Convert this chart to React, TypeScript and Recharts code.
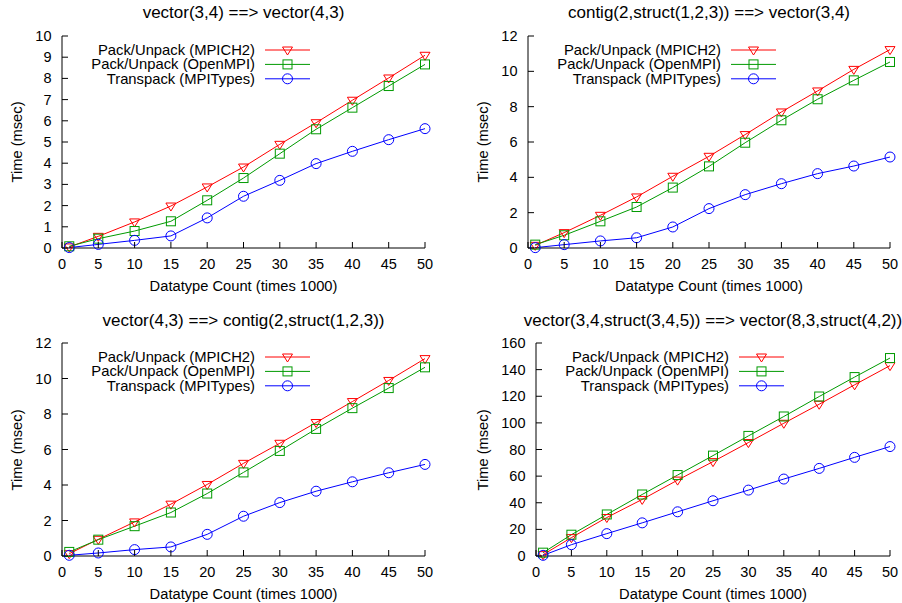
import React from 'react';
import { LineChart, Line, XAxis, YAxis, Legend } from 'recharts';

const FONT = '"Liberation Sans", Arial, Helvetica, sans-serif';

// datatype count (times 1000)
const counts = [1, 5, 10, 15, 20, 25, 30, 35, 40, 45, 50];
const xTicks = [0, 5, 10, 15, 20, 25, 30, 35, 40, 45, 50];

const titles = [
  'vector(3,4) ==> vector(4,3)',
  'contig(2,struct(1,2,3)) ==> vector(3,4)',
  'vector(4,3) ==> contig(2,struct(1,2,3))',
  'vector(3,4,struct(3,4,5)) ==> vector(8,3,struct(4,2))',
];

const yTicks1 = [0, 1, 2, 3, 4, 5, 6, 7, 8, 9, 10];
const yTicks2 = [0, 2, 4, 6, 8, 10, 12];
const yTicks3 = [0, 2, 4, 6, 8, 10, 12];
const yTicks4 = [0, 20, 40, 60, 80, 100, 120, 140, 160];

const mpich1 = [0.05, 0.55, 1.23, 1.98, 2.88, 3.82, 4.89, 5.91, 6.97, 8.02, 9.09];
const openmpi1 = [0.08, 0.44, 0.8, 1.26, 2.25, 3.3, 4.45, 5.6, 6.62, 7.64, 8.66];
const mpitypes1 = [0.02, 0.17, 0.36, 0.57, 1.42, 2.44, 3.19, 3.98, 4.56, 5.11, 5.63];

const mpich2 = [0.15, 0.87, 1.85, 2.89, 4.06, 5.19, 6.42, 7.7, 8.89, 10.11, 11.23];
const openmpi2 = [0.19, 0.72, 1.51, 2.32, 3.42, 4.62, 5.96, 7.23, 8.42, 9.49, 10.53];
const mpitypes2 = [0.02, 0.19, 0.4, 0.58, 1.19, 2.23, 3.02, 3.64, 4.21, 4.64, 5.15];

const mpich3 = [0.13, 0.94, 1.92, 2.92, 4.03, 5.22, 6.35, 7.52, 8.7, 9.89, 11.12];
const openmpi3 = [0.23, 0.92, 1.68, 2.45, 3.52, 4.71, 5.92, 7.16, 8.33, 9.46, 10.63];
const mpitypes3 = [0.04, 0.17, 0.36, 0.51, 1.22, 2.24, 3.01, 3.65, 4.18, 4.69, 5.16];

const mpich4 = [1, 13.8, 28.9, 42.5, 57, 70.9, 85.2, 99.7, 114, 128.6, 143];
const openmpi4 = [2.5, 16, 31.2, 46.2, 60.8, 75.4, 90.2, 104.8, 119.8, 134.4, 148.7];
const mpitypes4 = [0.5, 8.5, 16.8, 24.9, 33.2, 41.5, 49.5, 57.8, 65.8, 74.1, 82.2];

const series = [
  { key: 'mpich', name: 'Pack/Unpack (MPICH2)', color: '#ff0000', shape: 'tri' },
  { key: 'openmpi', name: 'Pack/Unpack (OpenMPI)', color: '#009a00', shape: 'square' },
  { key: 'mpitypes', name: 'Transpack (MPITypes)', color: '#0000ff', shape: 'circle' },
];

// box = where the chart sits on the page, plot = page coords of the plot area
const panels = [
  { ox: 0, oy: 0, h: 300, L: 62, R: 425, T: 36, B: 248, yMax: 10, yTicks: yTicks1, vals: [mpich1, openmpi1, mpitypes1] },
  { ox: 451, oy: 0, h: 300, L: 528, R: 890, T: 36, B: 248, yMax: 12, yTicks: yTicks2, vals: [mpich2, openmpi2, mpitypes2] },
  { ox: 0, oy: 300, h: 303, L: 62, R: 425, T: 343, B: 556, yMax: 12, yTicks: yTicks3, vals: [mpich3, openmpi3, mpitypes3] },
  { ox: 451, oy: 300, h: 303, L: 536, R: 890, T: 343, B: 556, yMax: 160, yTicks: yTicks4, vals: [mpich4, openmpi4, mpitypes4] },
];

const Marker = ({ cx, cy, shape, color }: { cx: number; cy: number; shape: string; color: string }) => {
  if (cx == null || cy == null) return null;
  if (shape === 'tri') {
    return (
      <polygon
        points={`${cx - 5},${cy - 3} ${cx + 5},${cy - 3} ${cx},${cy + 5}`}
        fill="none"
        stroke={color}
        strokeWidth={1}
      />
    );
  }
  if (shape === 'square') {
    return <rect x={cx - 4.5} y={cy - 4.5} width={9} height={9} fill="none" stroke={color} strokeWidth={1} />;
  }
  return <circle cx={cx} cy={cy} r={5} fill="none" stroke={color} strokeWidth={1} />;
};

const LegendBox = () => (
  <svg width={260} height={46} style={{ display: 'block', overflow: 'visible' }}>
    {series.map((s, i) => {
      const y = 7 + i * 14.4;
      return (
        <g key={s.key}>
          <text x={200} y={y} dy={5} textAnchor="end" fontSize={14.8} fontFamily={FONT} fill="#000">
            {s.name}
          </text>
          <line x1={210} x2={255} y1={y} y2={y} stroke={s.color} strokeWidth={1} />
          <Marker cx={232.5} cy={y} shape={s.shape} color={s.color} />
        </g>
      );
    })}
  </svg>
);

const Panel = ({ p, title }: { p: (typeof panels)[number]; title: string }) => {
  const data = counts.map((x, i) => ({
    x,
    mpich: p.vals[0][i],
    openmpi: p.vals[1][i],
    mpitypes: p.vals[2][i],
  }));
  const axisX = p.L - p.ox;
  const axisY = p.B - p.oy;
  const cx = (p.L + p.R) / 2 - p.ox;
  const cy = (p.T + p.B) / 2 - p.oy;

  const XTick = (props: any) => (
    <g>
      <line x1={props.x} x2={props.x} y1={axisY} y2={axisY - 6} stroke="#000" strokeWidth={1} />
      <text x={props.x} y={axisY + 15.5} dy={5} textAnchor="middle" fontSize={14.5} fontFamily={FONT} fill="#000">
        {props.payload.value}
      </text>
    </g>
  );
  const YTick = (props: any) => (
    <g>
      <line x1={axisX} x2={axisX + 6} y1={props.y} y2={props.y} stroke="#000" strokeWidth={1} />
      <text x={axisX - 10.5} y={props.y} dy={5} textAnchor="end" fontSize={14.5} fontFamily={FONT} fill="#000">
        {props.payload.value}
      </text>
    </g>
  );

  return (
    <div style={{ position: 'absolute', left: p.ox, top: p.oy, width: 451, height: p.h }}>
      <LineChart
        width={451}
        height={p.h}
        data={data}
        margin={{ top: p.T - p.oy, right: p.ox + 451 - p.R, left: 0, bottom: p.oy + p.h - p.B - 40 }}
      >
        <XAxis
          dataKey="x"
          type="number"
          domain={[0, 50]}
          ticks={xTicks}
          height={40}
          tickLine={false}
          tick={<XTick />}
          axisLine={{ stroke: '#000', strokeWidth: 1 }}
          interval={0}
        />
        <YAxis
          type="number"
          domain={[0, p.yMax]}
          ticks={p.yTicks}
          width={p.L - p.ox}
          tickLine={false}
          tick={<YTick />}
          axisLine={{ stroke: '#000', strokeWidth: 1 }}
          interval={0}
        />
        <Legend
          layout="vertical"
          align="center"
          verticalAlign="middle"
          wrapperStyle={{ left: p.L - p.ox - 7, top: p.T - p.oy + 7, width: 260, height: 46 }}
          content={() => <LegendBox />}
        />
        {series.map((s) => (
          <Line
            key={s.key}
            dataKey={s.key}
            name={s.name}
            type="linear"
            stroke={s.color}
            strokeWidth={1}
            isAnimationActive={false}
            activeDot={false}
            dot={(d: any) => (
              <Marker key={`${s.key}-${d.index}`} cx={d.cx} cy={d.cy} shape={s.shape} color={s.color} />
            )}
          />
        ))}
      </LineChart>
      <div
        style={{
          position: 'absolute',
          left: cx,
          top: p.oy === 0 ? 13 : 20.5,
          transform: 'translate(-50%, -50%)',
          whiteSpace: 'nowrap',
          fontSize: 17,
          fontFamily: FONT,
        }}
      >
        {title}
      </div>
      <div
        style={{
          position: 'absolute',
          left: cx,
          top: axisY + 38,
          transform: 'translate(-50%, -50%)',
          whiteSpace: 'nowrap',
          fontSize: 14.7,
          fontFamily: FONT,
        }}
      >
        Datatype Count (times 1000)
      </div>
      <div
        style={{
          position: 'absolute',
          left: p.ox === 0 ? 17 : 32,
          top: cy,
          transform: 'translate(-50%, -50%) rotate(-90deg)',
          whiteSpace: 'nowrap',
          fontSize: 14.7,
          fontFamily: FONT,
        }}
      >
        Time (msec)
      </div>
    </div>
  );
};

export default function App() {
  return (
    <div style={{ position: 'absolute', left: 0, top: 0, width: 902, height: 603, background: '#fff' }}>
      {panels.map((p, i) => (
        <Panel key={i} p={p} title={titles[i]} />
      ))}
    </div>
  );
}
